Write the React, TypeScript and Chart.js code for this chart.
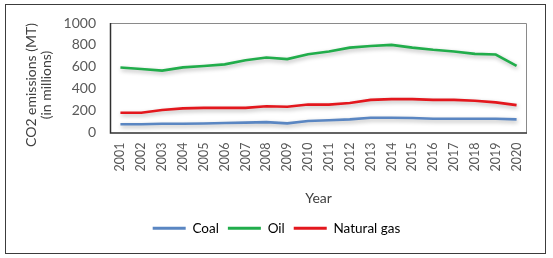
import React, { useEffect, useRef } from "react";
import { Chart, registerables } from "chart.js";

Chart.register(...registerables);

const years = ["2001","2002","2003","2004","2005","2006","2007","2008","2009","2010","2011","2012","2013","2014","2015","2016","2017","2018","2019","2020"];
const coal = [75, 75, 80, 80, 82, 87, 90, 95, 83, 105, 112, 120, 135, 135, 132, 125, 125, 125, 125, 120];
const oil = [593, 580, 565, 595, 608, 622, 660, 685, 670, 715, 740, 775, 790, 800, 775, 755, 740, 718, 712, 608];
const gas = [180, 180, 205, 220, 225, 225, 225, 240, 235, 255, 255, 270, 298, 305, 305, 298, 298, 290, 275, 250];
const yTicks = [0, 200, 400, 600, 800, 1000];
const yTitleLines = ["CO2 emissions (MT)", "(in millions)"];
const xTitle = "Year";
const seriesNames = ["Coal", "Oil", "Natural gas"];
const seriesColors = ["#5a86c2", "#21ad4b", "#e3171d"];

const FONT = "Lato, 'Liberation Sans', sans-serif";

const shadowPlugin = {
  id: "lineShadow",
  beforeDatasetsDraw(chart: any) {
    const ctx = chart.ctx;
    ctx.save();
    ctx.shadowColor = "rgba(0,0,0,0.3)";
    ctx.shadowBlur = 4;
    ctx.shadowOffsetX = 1;
    ctx.shadowOffsetY = 2;
  },
  afterDatasetsDraw(chart: any) {
    chart.ctx.restore();
  },
};

const frameAndTitlePlugin = {
  id: "frameAndTitle",
  afterDraw(chart: any) {
    const { ctx, chartArea } = chart;
    const { left, right, top, bottom } = chartArea;
    ctx.save();
    ctx.strokeStyle = "#8a8a8a";
    ctx.lineWidth = 1;
    ctx.beginPath();
    ctx.moveTo(left, top + 0.5);
    ctx.lineTo(right - 0.5, top + 0.5);
    ctx.lineTo(right - 0.5, bottom);
    ctx.stroke();
    ctx.strokeStyle = "#303030";
    ctx.lineWidth = 1.5;
    ctx.beginPath();
    ctx.moveTo(left + 0.5, top);
    ctx.lineTo(left + 0.5, bottom + 0.5);
    ctx.lineTo(right, bottom + 0.5);
    ctx.stroke();
    // y axis title
    ctx.translate(31, 85);
    ctx.rotate(-Math.PI / 2);
    ctx.fillStyle = "#404040";
    ctx.font = `14px ${FONT}`;
    ctx.textAlign = "center";
    ctx.textBaseline = "middle";
    yTitleLines.forEach((t, i) => ctx.fillText(t, 0, i * 15));
    ctx.restore();
  },
};

export default function App() {
  const ref = useRef<HTMLCanvasElement | null>(null);
  useEffect(() => {
    if (!ref.current) return;
    const data = [coal, oil, gas];
    const chart = new Chart(ref.current, {
      type: "line",
      data: {
        labels: years,
        datasets: seriesNames.map((name, i) => ({
          label: name,
          data: data[i],
          borderColor: seriesColors[i],
          backgroundColor: seriesColors[i],
          borderWidth: 2.6,
          pointRadius: 0,
          tension: 0,
          fill: false,
        })),
      },
      options: {
        responsive: false,
        animation: false,
        layout: { padding: { top: 23, right: 26, left: 26, bottom: 13 } },
        plugins: {
          tooltip: { enabled: false },
          legend: {
            position: "bottom",
            labels: {
              boxWidth: 33,
              boxHeight: 3,
              padding: 9,
              color: "#404040",
              font: { family: FONT, size: 13.5 },
              generateLabels: (c: any) =>
                c.data.datasets.map((d: any, i: number) => ({
                  text: d.label,
                  fillStyle: d.borderColor,
                  strokeStyle: d.borderColor,
                  lineWidth: 0,
                  datasetIndex: i,
                  hidden: false,
                })),
            },
          },
        },
        scales: {
          x: {
            type: "category",
            offset: true,
            grid: { display: false, drawTicks: false },
            border: { display: false },
            ticks: {
              minRotation: 90,
              maxRotation: 90,
              padding: 10,
              color: "#595959",
              font: { family: FONT, size: 12.5 },
              autoSkip: false,
            },
            title: {
              display: true,
              text: xTitle,
              color: "#404040",
              font: { family: FONT, size: 14 },
              padding: { top: 0, bottom: 6 },
            },
            afterFit: (s: any) => { s.height = 80; },
          },
          y: {
            min: 0,
            max: 1000,
            grid: { display: false, drawTicks: false },
            border: { display: false },
            afterBuildTicks: (s: any) => { s.ticks = yTicks.map((v) => ({ value: v })); },
            ticks: {
              padding: 14,
              color: "#595959",
              font: { family: FONT, size: 14 },
              callback: (v: any) => String(v),
            },
            afterFit: (s: any) => { s.width = 84; },
          },
        },
      },
      plugins: [shadowPlugin, frameAndTitlePlugin],
    });
    return () => chart.destroy();
  }, []);

  return (
    <div style={{ position: "absolute", left: 0, top: 0, width: 553, height: 258, background: "#fff" }}>
      <canvas ref={ref} width={553} height={258} style={{ position: "absolute", left: 0, top: 0, width: 553, height: 258 }} />
      <div style={{ position: "absolute", left: 5, top: 4, width: 541, height: 250, boxSizing: "border-box", border: "1px solid #3c3c3c", pointerEvents: "none" }} />
    </div>
  );
}
